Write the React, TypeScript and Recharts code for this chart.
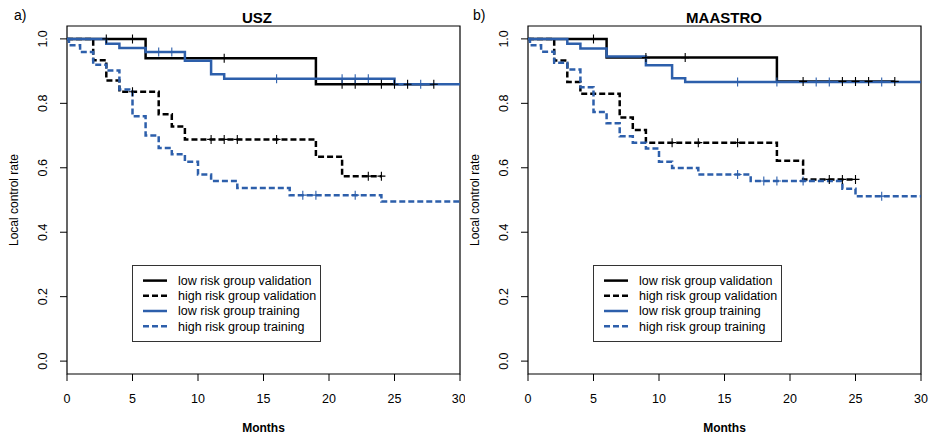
import { ComposedChart, Line, Scatter, XAxis, YAxis, ReferenceArea, Legend } from "recharts";

const FONT = "'Liberation Sans', Arial, Helvetica, sans-serif";
const BLUE = "#2d5fab";

const xTicks = [0, 5, 10, 15, 20, 25, 30];
const yTicks = [0, 0.2, 0.4, 0.6, 0.8, 1.0];

const legendLabels = [
  "low risk group validation",
  "high risk group validation",
  "low risk group training",
  "high risk group training",
];

// USZ (a)
const uszLowValTimes = [6, 19];
const uszLowValSurv = [0.94, 0.859];
const uszLowValEnd = 28;
const uszLowValCens = [3, 5, 12, 21, 22, 24, 25, 26, 28];

const uszHighValTimes = [2, 3, 4, 7, 8, 9, 19, 21];
const uszHighValSurv = [0.934, 0.871, 0.836, 0.766, 0.728, 0.688, 0.634, 0.574];
const uszHighValEnd = 24;
const uszHighValCens = [5, 11, 12, 13, 16, 23, 24];

const uszLowTrTimes = [3, 4, 6, 9, 11, 12, 25];
const uszLowTrSurv = [0.985, 0.972, 0.959, 0.932, 0.89, 0.876, 0.859];
const uszLowTrEnd = 30;
const uszLowTrCens = [7, 8, 16, 21, 22, 23, 27];

const uszHighTrTimes = [0.15, 1, 2, 3, 4, 5, 6, 7, 8, 9, 10, 11, 13, 17, 24];
const uszHighTrSurv = [0.98, 0.959, 0.92, 0.902, 0.843, 0.76, 0.7, 0.661, 0.642, 0.619, 0.579, 0.559, 0.537, 0.515, 0.495];
const uszHighTrEnd = 30;
const uszHighTrCens = [18, 19, 22];

// MAASTRO (b)
const maaLowValTimes = [6, 19];
const maaLowValSurv = [0.942, 0.868];
const maaLowValEnd = 28;
const maaLowValCens = [5, 9, 12, 21, 24, 25, 26, 28];

const maaHighValTimes = [2, 3, 4, 7, 8, 9, 19, 21];
const maaHighValSurv = [0.933, 0.866, 0.83, 0.756, 0.717, 0.678, 0.622, 0.564];
const maaHighValEnd = 25;
const maaHighValCens = [11, 13, 16, 23, 24, 25];

const maaLowTrTimes = [3, 4, 6, 9, 11, 12];
const maaLowTrSurv = [0.985, 0.97, 0.945, 0.918, 0.878, 0.866];
const maaLowTrEnd = 30;
const maaLowTrCens = [16, 19, 22, 23, 27];

const maaHighTrTimes = [0.15, 1, 2, 3, 4, 5, 6, 7, 8, 9, 10, 11, 13, 17, 24, 25];
const maaHighTrSurv = [0.98, 0.96, 0.926, 0.905, 0.85, 0.773, 0.738, 0.698, 0.678, 0.66, 0.619, 0.599, 0.579, 0.559, 0.535, 0.512];
const maaHighTrEnd = 30;
const maaHighTrCens = [16, 18, 19, 21, 27];

type Pt = { t: number; s: number };

function steps(times: number[], surv: number[], end: number): Pt[] {
  const pts: Pt[] = [{ t: 0, s: 1 }];
  times.forEach((t, i) => pts.push({ t, s: surv[i] }));
  pts.push({ t: end, s: surv[surv.length - 1] });
  return pts;
}

function censored(times: number[], surv: number[], cens: number[]): Pt[] {
  return cens.map((c) => {
    let s = 1;
    times.forEach((t, i) => {
      if (t <= c) s = surv[i];
    });
    return { t: c, s };
  });
}

type Curve = { times: number[]; surv: number[]; end: number; cens: number[]; color: string; dash?: string };

const plus = (color: string) => (p: any) =>
  (
    <path
      d={`M${p.cx - 4},${p.cy}H${p.cx + 4}M${p.cx},${p.cy - 4.5}V${p.cy + 4.5}`}
      stroke={color}
      strokeWidth={1.1}
      fill="none"
    />
  );

const YTick = (props: any) => {
  const { x, y, payload } = props;
  const bx = x - 11;
  return (
    <g>
      <text
        x={bx}
        y={y}
        transform={`rotate(-90 ${bx} ${y})`}
        textAnchor="middle"
        fontSize={12.5}
        fontFamily={FONT}
        fill="#000"
      >
        {payload.value.toFixed(1)}
      </text>
    </g>
  );
};

const LegendBox = () => (
  <svg width={189} height={77} style={{ display: "block" }}>
    <rect x={0.5} y={0.5} width={188} height={76} fill="#fff" stroke="#333" strokeWidth={1} />
    {legendLabels.map((lab, i) => {
      const y = 15.6 + i * 15.2;
      const color = i < 2 ? "#000" : BLUE;
      return (
        <g key={lab}>
          <line x1={11} x2={35} y1={y} y2={y} stroke={color} strokeWidth={2.5} strokeDasharray={i % 2 ? "6 3" : undefined} />
          <text x={46} y={y + 4.3} fontSize={12.5} fontFamily={FONT} fill="#000">
            {lab}
          </text>
        </g>
      );
    })}
  </svg>
);

function Panel({
  width,
  yWidth,
  right,
  curves,
  legendLeft,
}: {
  width: number;
  yWidth: number;
  right: number;
  curves: Curve[];
  legendLeft: number;
}) {
  return (
    <ComposedChart width={width} height={437} margin={{ top: 26, right, left: 0, bottom: 23 }}>
      <XAxis
        dataKey="t"
        type="number"
        domain={[0, 30]}
        ticks={xTicks}
        allowDataOverflow
        axisLine={false}
        tickSize={7}
        tickMargin={13}
        height={40}
        tick={{ fontSize: 12.5, fontFamily: FONT, fill: "#000" }}
        tickLine={{ stroke: "#000" }}
        label={{
          content: (p: any) => (
            <text
              x={p.viewBox.x + p.viewBox.width / 2}
              y={432}
              textAnchor="middle"
              fontSize={12}
              fontWeight="bold"
              fontFamily={FONT}
              fill="#000"
            >
              Months
            </text>
          ),
        }}
      />
      <YAxis
        type="number"
        domain={[-0.04, 1.04]}
        ticks={yTicks}
        allowDataOverflow
        axisLine={false}
        tickSize={7}
        width={yWidth}
        tick={<YTick />}
        tickLine={{ stroke: "#000" }}
        label={{
          content: (p: any) => {
            const cx = p.viewBox.x + p.viewBox.width - 53.5;
            const cy = p.viewBox.y + p.viewBox.height / 2;
            return (
              <text
                x={cx + 4}
                y={cy}
                transform={`rotate(-90 ${cx + 4} ${cy})`}
                textAnchor="middle"
                fontSize={12}
                fontFamily={FONT}
                fill="#000"
              >
                Local control rate
              </text>
            );
          },
        }}
      />
      <ReferenceArea x1={0} x2={30} y1={-0.04} y2={1.04} fill="none" fillOpacity={0} stroke="#000" strokeWidth={1.2} />
      {curves.map((c, i) => (
        <Line
          key={`l${i}`}
          data={steps(c.times, c.surv, c.end)}
          dataKey="s"
          type="stepAfter"
          stroke={c.color}
          strokeWidth={2.5}
          strokeDasharray={c.dash}
          dot={false}
          activeDot={false}
          isAnimationActive={false}
        />
      ))}
      {curves.map((c, i) => (
        <Scatter
          key={`c${i}`}
          data={censored(c.times, c.surv, c.cens)}
          dataKey="s"
          shape={plus(c.color)}
          isAnimationActive={false}
        />
      ))}
      <Legend
        layout="horizontal"
        verticalAlign="middle"
        align="center"
        content={() => <LegendBox />}
        wrapperStyle={{ left: legendLeft, top: 265, width: 189, height: 77 }}
      />
    </ComposedChart>
  );
}

const uszCurves: Curve[] = [
  { times: uszLowValTimes, surv: uszLowValSurv, end: uszLowValEnd, cens: uszLowValCens, color: "#000" },
  { times: uszHighValTimes, surv: uszHighValSurv, end: uszHighValEnd, cens: uszHighValCens, color: "#000", dash: "6 3" },
  { times: uszLowTrTimes, surv: uszLowTrSurv, end: uszLowTrEnd, cens: uszLowTrCens, color: BLUE },
  { times: uszHighTrTimes, surv: uszHighTrSurv, end: uszHighTrEnd, cens: uszHighTrCens, color: BLUE, dash: "6 3" },
];

const maaCurves: Curve[] = [
  { times: maaLowValTimes, surv: maaLowValSurv, end: maaLowValEnd, cens: maaLowValCens, color: "#000" },
  { times: maaHighValTimes, surv: maaHighValSurv, end: maaHighValEnd, cens: maaHighValCens, color: "#000", dash: "6 3" },
  { times: maaLowTrTimes, surv: maaLowTrSurv, end: maaLowTrEnd, cens: maaLowTrCens, color: BLUE },
  { times: maaHighTrTimes, surv: maaHighTrSurv, end: maaHighTrEnd, cens: maaHighTrCens, color: BLUE, dash: "6 3" },
];

const textStyle = { position: "absolute" as const, fontFamily: FONT, color: "#000", lineHeight: 1, whiteSpace: "nowrap" as const };

export default function App() {
  return (
    <div style={{ position: "absolute", left: 0, top: 0, width: 929, height: 437, background: "#fff", overflow: "hidden" }}>
      <div style={{ position: "absolute", left: 0, top: 0 }}>
        <Panel width={465} yWidth={67} right={5} curves={uszCurves} legendLeft={132} />
      </div>
      <div style={{ position: "absolute", left: 465, top: 0 }}>
        <Panel width={464} yWidth={63} right={8} curves={maaCurves} legendLeft={128} />
      </div>
      <div style={{ ...textStyle, left: 14, top: 8, fontSize: 14 }}>a)</div>
      <div style={{ ...textStyle, left: 473, top: 8, fontSize: 14 }}>b)</div>
      <div style={{ ...textStyle, left: 257, top: 10, fontSize: 15, fontWeight: "bold", transform: "translateX(-50%)" }}>USZ</div>
      <div style={{ ...textStyle, left: 724, top: 10, fontSize: 15, fontWeight: "bold", transform: "translateX(-50%)" }}>MAASTRO</div>
    </div>
  );
}
